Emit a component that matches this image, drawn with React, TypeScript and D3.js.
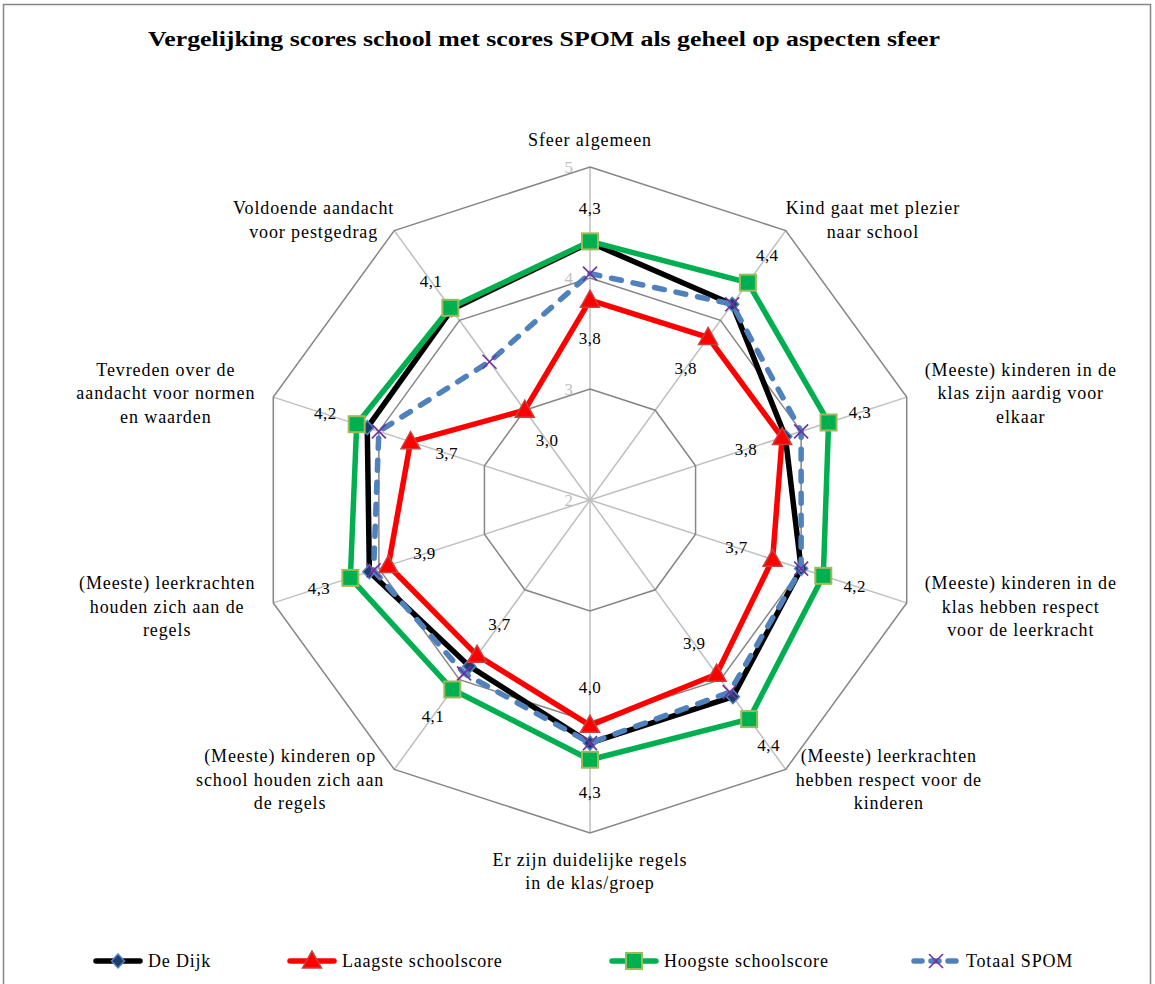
import React from "react";
import * as d3 from "d3";

// chart data
const categories = [
  "Sfeer algemeen",
  "Kind gaat met plezier\nnaar school",
  "(Meeste) kinderen in de\nklas  zijn aardig voor\nelkaar",
  "(Meeste) kinderen in de\nklas hebben respect\nvoor de leerkracht",
  "(Meeste) leerkrachten\nhebben respect voor de\nkinderen",
  "Er zijn duidelijke regels\nin de klas/groep",
  "(Meeste) kinderen op\nschool houden zich aan\nde regels",
  "(Meeste) leerkrachten\nhouden zich aan de\nregels",
  "Tevreden over de\naandacht voor normen\nen waarden",
  "Voldoende aandacht\nvoor pestgedrag",
];

const deDijk = [4.32, 4.18, 3.85, 4.0, 4.19, 4.19, 3.85, 4.09, 4.11, 4.12];
const laagste = [3.8, 3.81, 3.82, 3.73, 3.94, 4.03, 3.73, 3.91, 3.7, 3.0];
const hoogste = [4.33, 4.42, 4.26, 4.21, 4.44, 4.34, 4.11, 4.27, 4.21, 4.14];
const totaalSpom = [4.04, 4.18, 4.0, 4.0, 4.14, 4.19, 3.93, 4.05, 4.0, 3.54];

const axisTicks = [2, 3, 4, 5];
const gridLevels = [3, 4, 5];
const title = "Vergelijking scores school met scores SPOM als geheel op aspecten sfeer";

const W = 1155;
const H = 984;
const cx = 590;
const cy = 500;
const R = 333;
const FONT = "'Liberation Serif', 'Times New Roman', serif";
const LABEL_SIZE = 18;
const LABEL_LS = 0.9;
const LINE_H = 23.5;

const rScale = d3.scaleLinear().domain([2, 5]).range([0, R]);
const n = categories.length;
const angle = (i: number) => (i * 2 * Math.PI) / n;
const pt = (i: number, v: number): [number, number] => {
  const [x, y] = d3.pointRadial(angle(i), rScale(v));
  return [cx + x, cy + y];
};

const series = [
  { name: "De Dijk", values: deDijk, color: "#000000", marker: "diamond", dash: null, labels: 0 },
  { name: "Laagste schoolscore", values: laagste, color: "#ff0000", marker: "triangle", dash: null, labels: -38 },
  { name: "Hoogste schoolscore", values: hoogste, color: "#00b050", marker: "square", dash: null, labels: 33 },
  { name: "Totaal SPOM", values: totaalSpom, color: "#4f81bd", marker: "x", dash: "10 12", labels: 0 },
];

const fmt = (v: number) => d3.format(".1f")(v).replace(".", ",");

let ctx: CanvasRenderingContext2D | null = null;
function measure(text: string) {
  if (!ctx) ctx = document.createElement("canvas").getContext("2d");
  if (!ctx) return text.length * 8;
  ctx.font = `${LABEL_SIZE}px ${FONT}`;
  return ctx.measureText(text).width + LABEL_LS * text.length;
}

function Marker({ type, x, y }: { type: string; x: number; y: number }) {
  if (type === "diamond")
    return (
      <path
        d={`M${x},${y - 7}L${x + 6.5},${y}L${x},${y + 7}L${x - 6.5},${y}Z`}
        fill="#1f3d6b"
        stroke="#4f81bd"
        strokeWidth={1.5}
      />
    );
  if (type === "triangle")
    return (
      <path
        d={`M${x},${y - 10}L${x + 9.5},${y + 7}L${x - 9.5},${y + 7}Z`}
        fill="#ff0000"
        stroke="#c9403c"
        strokeWidth={1.5}
      />
    );
  if (type === "square")
    return <rect x={x - 8} y={y - 8} width={16} height={16} fill="#00b050" stroke="#9bbb59" strokeWidth={2} />;
  return (
    <g stroke="#7030a0" strokeWidth={1.6}>
      <line x1={x - 7} y1={y - 7} x2={x + 7} y2={y + 7} />
      <line x1={x - 7} y1={y + 7} x2={x + 7} y2={y - 7} />
    </g>
  );
}

const legendTextX = [148, 342, 664, 966];

export default function App() {
  const line = d3.line().curve(d3.curveLinearClosed);

  return (
    <div style={{ position: "absolute", left: 0, top: 0 }}>
      <svg width={W} height={H} style={{ display: "block", background: "#fff", fontFamily: FONT }}>
        <rect x={3.5} y={4.5} width={1147} height={1000} fill="none" stroke="#868686" strokeWidth={1.5} />
        <text
          x={148}
          y={46}
          fontSize={20}
          fontWeight="bold"
          textLength={792}
          lengthAdjust="spacingAndGlyphs"
        >
          {title}
        </text>

        {/* spokes */}
        {categories.map((_, i) => {
          const [x, y] = pt(i, 5);
          return <line key={i} x1={cx} y1={cy} x2={x} y2={y} stroke="#bfbfbf" strokeWidth={1.5} />;
        })}
        {/* rings */}
        {gridLevels.map((lv) => (
          <path
            key={lv}
            d={line(categories.map((_, i) => pt(i, lv))) || ""}
            fill="none"
            stroke="#868686"
            strokeWidth={1.5}
          />
        ))}
        {axisTicks.map((t) => (
          <text
            key={t}
            x={cx - 17}
            y={cy - rScale(t)}
            textAnchor="end"
            dominantBaseline="central"
            fontSize={17}
            fill="#bfbfbf"
          >
            {t}
          </text>
        ))}

        {/* category labels */}
        {categories.map((c, i) => {
          const lines = c.split("\n");
          const a = angle(i);
          const s = Math.sin(a);
          const co = Math.cos(a);
          const [px, py] = pt(i, 5);
          const w = d3.max(lines, (l) => measure(l)) || 0;
          const h = lines.length * LINE_H;
          let bx: number;
          let by: number;
          if (Math.abs(s) < 0.01) {
            bx = px;
            by = py - Math.sign(co) * (15 + h / 2);
          } else {
            const gap = Math.abs(co) < 0.5 ? 18 : co > 0 ? 0 : 10;
            bx = px + Math.sign(s) * (gap + w / 2);
            by = py - co * 13;
          }
          return (
            <g key={i}>
              {lines.map((l, k) => (
                <text
                  key={k}
                  x={bx}
                  y={by + (k - (lines.length - 1) / 2) * LINE_H}
                  textAnchor="middle"
                  dominantBaseline="central"
                  fontSize={LABEL_SIZE}
                  letterSpacing={LABEL_LS}
                >
                  {l}
                </text>
              ))}
            </g>
          );
        })}

        {/* series */}
        {series.map((se) => {
          const pts = se.values.map((v, i) => pt(i, v));
          return (
            <g key={se.name}>
              <path
                d={line(pts) || ""}
                fill="none"
                stroke={se.color}
                strokeWidth={5.5}
                strokeDasharray={se.dash || undefined}
                strokeLinecap={se.dash ? "round" : "butt"}
              />
              {pts.map(([x, y], i) => (
                <Marker key={i} type={se.marker} x={x} y={y} />
              ))}
            </g>
          );
        })}

        {/* data labels */}
        {series
          .filter((se) => se.labels !== 0)
          .map((se) =>
            se.values.map((v, i) => {
              const [x, y] = d3.pointRadial(angle(i), rScale(v) + se.labels);
              return (
                <text
                  key={se.name + i}
                  x={cx + x}
                  y={cy + y}
                  textAnchor="middle"
                  dominantBaseline="central"
                  fontSize={17}
                  letterSpacing={0.4}
                >
                  {fmt(v)}
                </text>
              );
            })
          )}

        {/* legend */}
        {series.map((se, k) => {
          const tx = legendTextX[k];
          const x1 = tx - 52;
          const x2 = tx - 8;
          const y = 961;
          return (
            <g key={se.name}>
              <line
                x1={x1}
                x2={x2}
                y1={y}
                y2={y}
                stroke={se.color}
                strokeWidth={5.5}
                strokeDasharray={se.dash ? "8 9" : undefined}
                strokeLinecap="round"
              />
              <Marker type={se.marker} x={(x1 + x2) / 2} y={y} />
              <text x={tx} y={y} dominantBaseline="central" fontSize={18} letterSpacing={0.8}>
                {se.name}
              </text>
            </g>
          );
        })}
      </svg>
    </div>
  );
}
